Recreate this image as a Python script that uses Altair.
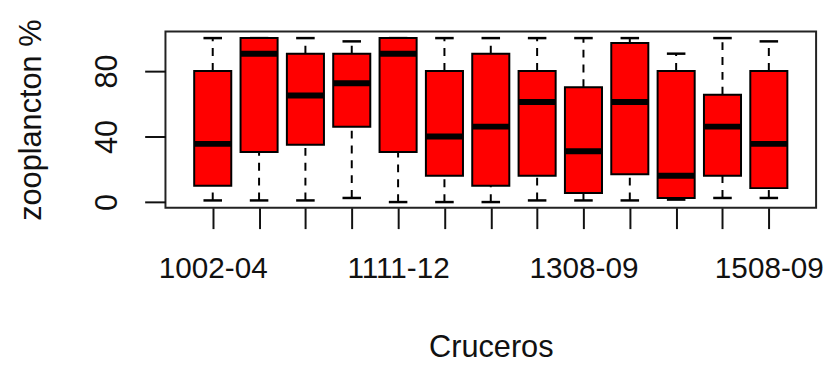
import altair as alt
import pandas as pd

cruceros = ["1002-04", "1009-10", "1102-03", "1105-06", "1111-12", "1202-03",
            "1208-09", "1302-04", "1308-09", "1402-03", "1408-09", "1502-03", "1508-09"]
lo = [1, 1, 1, 2.5, 0, 0, 0, 1, 1, 1, 1.5, 2.5, 2.5]
q1 = [10, 30.5, 35, 46, 30.5, 16, 10, 16, 5.5, 17, 2.5, 16, 8.5]
med = [35.5, 90.5, 65, 72.5, 90.5, 40, 46, 61, 31, 61, 16, 46, 35.5]
q3 = [80, 100, 90.5, 90.5, 100, 80, 90.5, 80, 70, 97, 80, 65.5, 80]
hi = [100, 100, 100, 98, 100, 100, 100, 100, 100, 100, 90.5, 100, 98]
shown_labels = ["1002-04", "1111-12", "1308-09", "1508-09"]

df = pd.DataFrame({"crucero": cruceros, "pos": list(range(1, len(cruceros) + 1)),
                   "lo": lo, "q1": q1, "med": med, "q3": q3, "hi": hi})

label_map = "{" + ",".join(f"'{i+1}':'{c}'" for i, c in enumerate(cruceros) if c in shown_labels) + "}"

xscale = alt.Scale(domain=[-0.02, 14.02], nice=False, zero=False)
yscale = alt.Scale(domain=[-3.5, 104], nice=False, zero=False)

FONT = "Liberation Sans"

base = alt.Chart(df).transform_calculate(
    bl="datum.pos - 0.4", br="datum.pos + 0.4",
    cl="datum.pos - 0.2", cr="datum.pos + 0.2")

xaxis = alt.Axis(values=list(range(1, 14)), labelExpr=f"{label_map}[datum.value] || ''",
                 title="Cruceros", domain=False, grid=False, tickSize=21, tickWidth=2,
                 tickColor="#111", labelFontSize=30, labelFont=FONT, labelColor="#111",
                 labelPadding=25, labelFlush=False, labelOverlap=False,
                 titleFontSize=31, titleFont=FONT, titleFontWeight="normal", titleColor="#111",
                 titleY=150, titleBaseline="alphabetic")
yaxis = alt.Axis(values=[0, 20, 40, 60, 80, 100],
                 labelExpr="datum.value % 40 == 0 ? datum.label : ''",
                 title="zooplancton %", domain=False, grid=False, tickSize=21, tickWidth=2,
                 tickColor="#111", labelFontSize=31, labelFont=FONT, labelColor="#111",
                 labelAngle=270, labelAlign="center", labelBaseline="alphabetic",
                 labelPadding=28, labelOverlap=False,
                 titleFontSize=31, titleFont=FONT, titleFontWeight="normal", titleColor="#111",
                 titleAngle=270, titleX=-126, titleY=89, titleBaseline="alphabetic",
                 titleAlign="center")

whisk_lo = base.mark_rule(color="black", strokeWidth=2, strokeDash=[8, 7]).encode(
    x=alt.X("pos:Q", scale=xscale, axis=xaxis),
    y=alt.Y("lo:Q", scale=yscale, axis=yaxis), y2="q1:Q")
whisk_hi = base.mark_rule(color="black", strokeWidth=2, strokeDash=[8, 7]).encode(
    x="pos:Q", y="q3:Q", y2="hi:Q")
cap_lo = base.mark_rule(color="black", strokeWidth=2.5).encode(
    x="cl:Q", x2="cr:Q", y="lo:Q")
cap_hi = base.mark_rule(color="black", strokeWidth=2.5).encode(
    x="cl:Q", x2="cr:Q", y="hi:Q")
boxes = base.mark_rect(fill="#FF0000", stroke="black", strokeWidth=2).encode(
    x="bl:Q", x2="br:Q", y="q1:Q", y2="q3:Q")
medians = base.mark_rule(color="black", strokeWidth=6).encode(
    x="bl:Q", x2="br:Q", y="med:Q")

chart = alt.layer(whisk_lo, whisk_hi, cap_lo, cap_hi, boxes, medians).properties(
    width=657, height=178,
    autosize=alt.AutoSizeParams(type="none"),
    padding={"left": 159, "top": 22, "right": 10, "bottom": 160},
    background="white",
).configure_view(stroke="#222", strokeWidth=2)

chart.save("out.html", embed_options={"renderer": "svg", "actions": False})
